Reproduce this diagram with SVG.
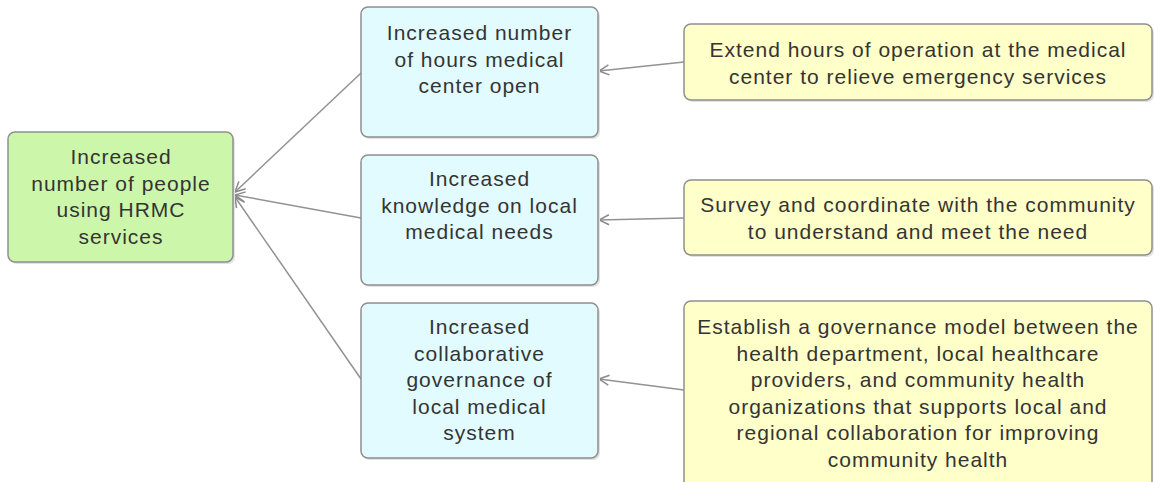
<svg xmlns="http://www.w3.org/2000/svg" width="1155" height="482" viewBox="0 0 1155 482">
<defs>
<style>
.box{stroke:#8f8f8f;stroke-width:1.5}
.shadow{fill:#e2e2e2}
.green{fill:#ccf7ab}
.blue{fill:#e1fbff}
.yellow{fill:#ffffc9}
.t{font-family:"Liberation Sans",Arial,sans-serif;font-size:21px;letter-spacing:1px;fill:#343434;text-anchor:middle}
.c{stroke:#929292;stroke-width:1.5;fill:none;marker-end:url(#arr)}
</style>
<marker id="arr" viewBox="0 0 12 12" refX="11" refY="6" markerWidth="12" markerHeight="12" markerUnits="userSpaceOnUse" orient="auto">
<path d="M1,1 L11,6 L1,11" fill="none" stroke="#8a8a8a" stroke-width="1.5"/>
</marker>
</defs>
<rect width="1155" height="482" fill="#ffffff"/>
<g id="connectors">
<line class="c" x1="361" y1="73" x2="235" y2="192"/>
<line class="c" x1="361" y1="218" x2="235" y2="195"/>
<line class="c" x1="361" y1="379" x2="235" y2="197"/>
<line class="c" x1="684" y1="62" x2="599" y2="71"/>
<line class="c" x1="684" y1="218" x2="599" y2="220"/>
<line class="c" x1="684" y1="390" x2="599" y2="379"/>
</g>
<g id="n-goal">
<rect class="shadow" x="10" y="134" width="225" height="130" rx="7"/>
<rect class="box green" x="8" y="132" width="225" height="130" rx="7"/>
<text class="t" x="121" y="164">Increased</text>
<text class="t" x="121" y="190.6">number of people</text>
<text class="t" x="121" y="217.2">using HRMC</text>
<text class="t" x="121" y="243.8">services</text>
</g>
<g id="n-hours">
<rect class="shadow" x="363" y="9" width="237" height="130" rx="7"/>
<rect class="box blue" x="361" y="7" width="237" height="130" rx="7"/>
<text class="t" x="479.5" y="40">Increased number</text>
<text class="t" x="479.5" y="66.6">of hours medical</text>
<text class="t" x="479.5" y="93.2">center open</text>
</g>
<g id="n-knowledge">
<rect class="shadow" x="363" y="157" width="237" height="130" rx="7"/>
<rect class="box blue" x="361" y="155" width="237" height="130" rx="7"/>
<text class="t" x="479.5" y="186">Increased</text>
<text class="t" x="479.5" y="212.6">knowledge on local</text>
<text class="t" x="479.5" y="239.2">medical needs</text>
</g>
<g id="n-governance">
<rect class="shadow" x="363" y="305" width="237" height="155" rx="7"/>
<rect class="box blue" x="361" y="303" width="237" height="155" rx="7"/>
<text class="t" x="479.5" y="334">Increased</text>
<text class="t" x="479.5" y="360.6">collaborative</text>
<text class="t" x="479.5" y="387.2">governance of</text>
<text class="t" x="479.5" y="413.8">local medical</text>
<text class="t" x="479.5" y="440.4">system</text>
</g>
<g id="n-extend">
<rect class="shadow" x="686" y="26" width="468" height="76" rx="7"/>
<rect class="box yellow" x="684" y="24" width="468" height="76" rx="7"/>
<text class="t" x="918" y="57">Extend hours of operation at the medical</text>
<text class="t" x="918" y="83.6">center to relieve emergency services</text>
</g>
<g id="n-survey">
<rect class="shadow" x="686" y="182" width="468" height="75" rx="7"/>
<rect class="box yellow" x="684" y="180" width="468" height="75" rx="7"/>
<text class="t" x="918" y="212">Survey and coordinate with the community</text>
<text class="t" x="918" y="238.6">to understand and meet the need</text>
</g>
<g id="n-establish">
<rect class="box yellow" x="684" y="301" width="468" height="190" rx="7"/>
<text class="t" x="918" y="334">Establish a governance model between the</text>
<text class="t" x="918" y="360.6">health department, local healthcare</text>
<text class="t" x="918" y="387.2">providers, and community health</text>
<text class="t" x="918" y="413.8">organizations that supports local and</text>
<text class="t" x="918" y="440.4">regional collaboration for improving</text>
<text class="t" x="918" y="467">community health</text>
</g>
</svg>
